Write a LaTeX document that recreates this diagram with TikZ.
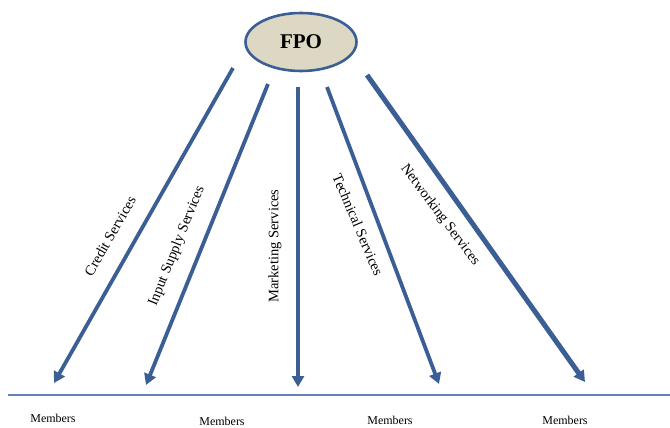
\documentclass[tikz,border=0pt]{standalone}
\usepackage{fontspec}
\setmainfont{Liberation Serif}
\usepackage{xcolor}
\usepackage{tikz}
\usetikzlibrary{arrows.meta,shapes.geometric}

\definecolor{fpoblue}{RGB}{59,94,148}
\definecolor{fpofill}{RGB}{221,216,195}
\definecolor{baseblue}{RGB}{100,130,185}

\begin{document}
\begin{tikzpicture}[x=1pt,y=-1pt,
		service/.style={draw=fpoblue, line width=3.8pt, -{Triangle[length=11pt,width=12pt]}},
		servlbl/.style={font=\fontsize{14.5}{16}\selectfont},
		member/.style={font=\fontsize{12}{14}\selectfont}]
			\useasboundingbox (0,0) rectangle (670,428);
			\node[ellipse, draw=fpoblue, line width=2.6pt, fill=fpofill,
				minimum width=111pt, minimum height=58pt,
				font=\bfseries\fontsize{21}{24}\selectfont] (fpo) at (301,42) {FPO};
			% start and end of the service arrows
			\coordinate (credit s) at (233,68);   \coordinate (credit e) at (54,383);
			\coordinate (input s) at (268,84);    \coordinate (input e) at (146,385);
			\coordinate (market s) at (298,87);   \coordinate (market e) at (298,387);
			\coordinate (tech s) at (327,87);     \coordinate (tech e) at (439,384);
			\coordinate (net s) at (367,75);      \coordinate (net e) at (585,382);
			\draw [service] (credit s) -- (credit e);
			\draw [service] (input s) -- (input e);
			\draw [service] (market s) -- (market e);
			\draw [service] (tech s) -- (tech e);
			\draw [service, line width=5pt] (net s) -- (net e);
			\node[servlbl, rotate=60] (credit) at (110,236) {Credit Services};
			\node[servlbl, rotate=68] (input) at (177,246) {Input Supply Services};
			\node[servlbl, rotate=90] (market) at (275,246) {Marketing Services};
			\node[servlbl, rotate=-67] (tech) at (358,225) {Technical Services};
			\node[servlbl, rotate=-53] (net) at (440,215) {Networking Services};
			% base line and members
			\coordinate (base l) at (8,395);
			\coordinate (base r) at (670,395);
			\draw [baseblue, line width=1.3pt] (base l) -- (base r);
			\node[member] (m1) at (53,418) {Members};
			\node[member] (m2) at (222,421) {Members};
			\node[member] (m3) at (390,420) {Members};
			\node[member] (m4) at (565,420) {Members};
		\end{tikzpicture}
\end{document}
